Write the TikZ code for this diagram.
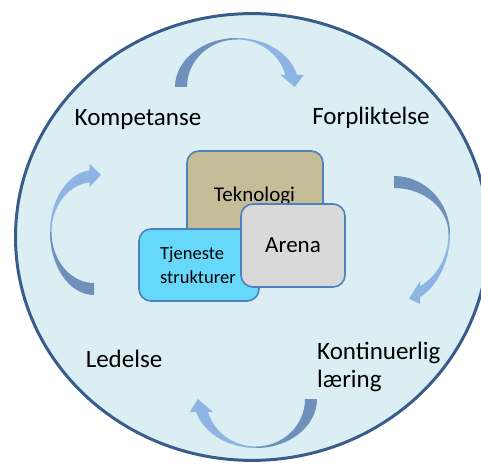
\documentclass[tikz,border=0pt]{standalone}
\usepackage{fontspec}
\newfontfamily\labelfont{Carlito}
\definecolor{ringfill}{HTML}{DBEEF4}
\definecolor{ringline}{HTML}{385D8A}
\definecolor{arrowdark}{HTML}{6F90BA}
\definecolor{arrowlight}{HTML}{8EB4E3}
\definecolor{boxline}{HTML}{4F81BD}
\definecolor{techfill}{HTML}{C4BD97}
\definecolor{servfill}{HTML}{66D8FA}
\definecolor{arenafill}{HTML}{D9D9D9}

% Curved crescent arrow in a local frame: u runs from tail to head,
% v points to the bulge. #1 rotation, #2 centre, #3 tail half-length,
% #4 head half-length, #5 depth, #6 v of the head base, #7 head length.
\newcommand\cyclearrow[7]{%
  \begin{scope}[shift={#2}, rotate=#1]
    \pgfmathsetmacro\Din{#5-1.5}
    \pgfmathsetmacro\Ltin{#3-12}
    \pgfmathsetmacro\Lhin{#4-12}
    \pgfmathsetmacro\teo{asin(#6/#5)}
    \pgfmathsetmacro\tei{asin(#6/\Din)}
    \pgfmathsetmacro\Pou{#4*cos(\teo)}
    \pgfmathsetmacro\Piu{\Lhin*cos(\tei)}
    \pgfmathsetmacro\midu{(\Pou+\Piu)/2}
    \pgfmathsetmacro\st{#6/(#5-0.75)}
    \pgfmathsetmacro\slope{(#4-6)*\st/((#5-0.75)*sqrt(1-\st*\st))}
    \pgfmathsetmacro\tipu{\midu+#7*\slope}
    \pgfmathsetmacro\tipv{#6-#7}
    \fill[arrowdark] (-#3,0) arc[start angle=180, end angle=90, x radius=#3, y radius=#5]
      -- (0,\Din) arc[start angle=90, end angle=180, x radius=\Ltin, y radius=\Din] -- cycle;
    \fill[arrowlight] (0,#5) arc[start angle=90, end angle=\teo, x radius=#4, y radius=#5]
      -- (\Pou+6.5,#6) -- (\tipu,\tipv) -- (\Piu-5,#6) -- (\Piu,#6)
      arc[start angle=\tei, end angle=90, x radius=\Lhin, y radius=\Din] -- cycle;
  \end{scope}}

\tikzset{
  ringlabel/.style={font=\labelfont\fontsize{25}{28}\selectfont, inner sep=0pt, text=black},
  card/.style={draw=boxline, line width=1.6pt, rounded corners=12pt},
}

\begin{document}
\begin{tikzpicture}[x=1pt, y=1pt]
  \useasboundingbox (0,0) rectangle (481,466);
  \clip (0,0) rectangle (481,466);

  % outer ring
  \draw[ringline, line width=3pt, fill=ringfill] (252,229) ellipse[x radius=236.5, y radius=223.4];

  % cycle arrows
  \cyclearrow{0}{(237,379)}{62}{62}{49}{12}{12}
  \cyclearrow{-90}{(394,232)}{58}{71.5}{56}{26}{11}
  \cyclearrow{180}{(256,67)}{61}{62}{49}{13}{13}
  \cyclearrow{90}{(94,234)}{63}{62}{44}{4.5}{11.5}

  % cycle labels
  \node[ringlabel, anchor=base] (komp) at (138,340) {Kompetanse};
  \node[ringlabel, anchor=base] (forp) at (371,341) {Forpliktelse};
  \node[ringlabel, anchor=base west] (kont) at (317,107) {Kontinuerlig};
  \node[ringlabel, anchor=base west] (laer) at (317,79) {læring};
  \node[ringlabel, anchor=base] (led) at (124,99) {Ledelse};

  % central cards
  \draw[card, fill=techfill] (187,226) rectangle (323,315);
  \node[font=\labelfont\fontsize{21}{24}\selectfont, inner sep=0pt, anchor=base] (tek) at (254.5,264) {Teknologi};
  \draw[card, fill=servfill] (139,165) rectangle (259,237);
  \node[font=\labelfont\fontsize{18.5}{23}\selectfont, inner sep=0pt, anchor=base west] (tj1) at (160,206) {Tjeneste};
  \node[font=\labelfont\fontsize{18.5}{23}\selectfont, inner sep=0pt, anchor=base west] (tj2) at (160,183) {strukturer};
  \draw[card, fill=arenafill] (241,179) rectangle (345,262);
  \node[font=\labelfont\fontsize{23}{26}\selectfont, inner sep=0pt, anchor=base] (arena) at (293,213) {Arena};
\end{tikzpicture}
\end{document}
